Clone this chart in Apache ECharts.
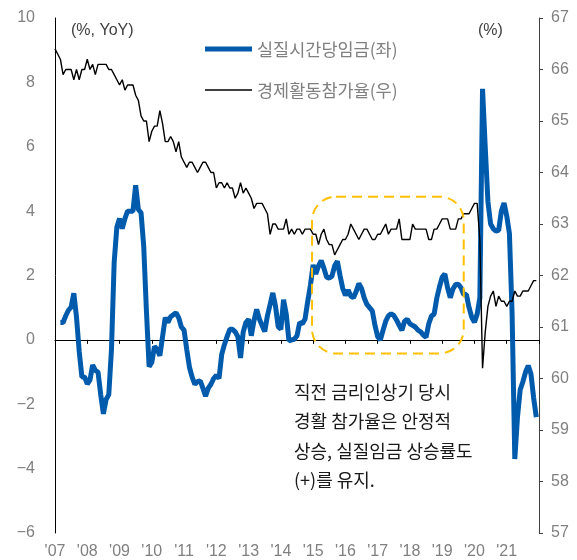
<!DOCTYPE html>
<html>
<head>
<meta charset="utf-8">
<script src="https://cdn.jsdelivr.net/npm/echarts@6/dist/echarts.min.js"></script>
<style>
  html, body { margin: 0; padding: 0; background: #fff; }
  #chart { width: 577px; height: 560px; }
</style>
</head>
<body>
<div id="chart"></div>
<script>
// 월별 데이터: 2007.01 ~ 2021.12 (180개월)
const yearLabels = ["'07", "'08", "'09", "'10", "'11", "'12", "'13", "'14", "'15", "'16", "'17", "'18", "'19", "'20", "'21"]

// 실질시간당임금 (%, YoY) - 좌축
const wageData = [
  null, null, 0.54, 0.54, 0.75, 0.92, 1.02, 1.45, 0.7, -0.35,
  -1.15, -1.15, -1.37, -1.25, -0.78, -0.95, -1.0, -1.7, -2.3, -1.85,
  -1.7, -0.3, 2.4, 3.5, 3.77, 3.46, 3.77, 4.0, 4.0, 4.0,
  4.8, 4.05, 3.95, 2.9, 0.9, -0.83, -0.7, -0.2, -0.3, -0.49,
  0.1, 0.69, 0.54, 0.72, 0.78, 0.84, 0.69, 0.4, 0.3, -0.3,
  -0.85, -1.16, -1.38, -1.3, -1.27, -1.5, -1.75, -1.5, -1.38, -1.2,
  -1.1, -1.2, -0.45, -0.15, 0.1, 0.33, 0.33, 0.25, 0.1, -0.56,
  0.25, 0.54, 0.64, 0.13, 0.6, 0.95, 0.65, 0.45, 0.26, 0.75,
  1.1, 1.46, 1.05, 0.41, 0.33, 1.25, 0.8, -0.03, 0.0, 0.02,
  0.13, 0.54, 0.5, 0.65, 1.2, 1.7, 2.33, 2.05, 2.3, 2.46,
  2.23, 1.95, 1.92, 1.98, 2.3, 2.44, 2.0, 1.6, 1.38, 1.55,
  1.36, 1.31, 1.5, 1.75, 1.6, 1.3, 1.1, 1.0, 0.9, 0.45,
  0.1, 0.0, 0.3, 0.58, 0.75, 0.81, 0.76, 0.62, 0.45, 0.3,
  0.58, 0.64, 0.5, 0.45, 0.4, 0.3, 0.25, 0.15, 0.08, 0.5,
  0.74, 0.8, 1.3, 1.65, 1.95, 2.05, 1.62, 1.31, 1.58, 1.72,
  1.73, 1.62, 1.41, 1.41, 1.0, 0.7, 0.55, 0.8, 1.3, 7.8,
  6.0, 4.3, 3.6, 3.45, 3.38, 3.4, 4.0, 4.25, 3.85, 3.3,
  0.8, -3.7, -2.4, -1.55, -1.3, -1.0, -0.8, -1.05, -1.8, -2.4
]

// 경제활동참가율 (%) - 우축
const lfprData = [
  66.4, 66.3, 66.2, 65.9, 66.0, 66.0, 66.0, 65.8, 66.0, 65.8,
  66.0, 66.0, 66.2, 66.0, 66.1, 65.9, 66.1, 66.1, 66.1, 66.1,
  66.0, 66.0, 65.9, 65.8, 65.7, 65.8, 65.6, 65.7, 65.7, 65.7,
  65.5, 65.4, 65.1, 65.0, 65.0, 64.6, 64.8, 64.9, 64.9, 65.2,
  64.95, 64.6, 64.6, 64.7, 64.6, 64.4, 64.6, 64.3, 64.2, 64.1,
  64.2, 64.2, 64.1, 64.0, 64.1, 64.2, 64.2, 64.1, 64.0, 64.0,
  63.7, 63.8, 63.8, 63.7, 63.8, 63.7, 63.7, 63.5, 63.6, 63.8,
  63.6, 63.7, 63.6, 63.5, 63.3, 63.4, 63.4, 63.4, 63.3, 63.2,
  62.8, 63.0, 63.0, 62.9, 62.9, 62.9, 63.1, 62.8, 62.9, 62.8,
  62.9, 62.9, 62.8, 62.9, 62.9, 62.9, 62.8, 62.8, 62.6, 62.8,
  62.9, 62.7, 62.6, 62.6, 62.4, 62.5, 62.6, 62.7, 62.7, 62.8,
  63.0, 62.9, 62.8, 62.7, 62.8, 62.9, 62.9, 62.8, 62.7, 62.7,
  62.8, 62.8, 62.9, 63.0, 62.8, 62.9, 62.9, 62.9, 63.1, 62.7,
  62.7, 62.7, 62.7, 63.0, 62.9, 62.9, 62.9, 62.9, 62.9, 62.7,
  62.7, 62.9, 62.9, 63.0, 63.1, 63.1, 63.1, 62.9, 62.9, 62.9,
  63.1, 63.1, 63.2, 63.2, 63.2, 63.3, 63.4, 63.4, 62.7, 60.2,
  60.9, 61.4, 61.6, 61.7, 61.4, 61.6, 61.5, 61.5, 61.4, 61.5,
  61.5, 61.7, 61.6, 61.6, 61.7, 61.7, 61.7, 61.8, 61.9, 61.9
]

const seriesNames = ['실질시간당임금(좌)', '경제활동참가율(우)']
const noteLines = ['직전 금리인상기 당시', '경활 참가율은 안정적', '상승, 실질임금 상승률도', '(+)를 유지.']

const toPairs = (arr) => arr.map((v, i) => [i, v]).filter((p) => p[1] !== null)

const gray = '#808080'
const blue = '#005bac'
const latin = 'Liberation Sans'

const chart = echarts.init(document.getElementById('chart'))

const option = {
  animation: false,
  grid: { left: 55, right: 38, top: 18, bottom: 23 },
  xAxis: [
    {
      type: 'value',
      min: 0,
      max: 180,
      interval: 12,
      position: 'bottom',
      axisLine: { onZero: true, onZeroAxisIndex: 0, lineStyle: { color: '#000', width: 1 } },
      axisTick: { show: true, length: 4, lineStyle: { color: '#000' } },
      axisLabel: { show: false },
      splitLine: { show: false }
    },
    {
      type: 'value',
      min: 0,
      max: 180,
      interval: 12,
      position: 'bottom',
      axisLine: { show: false, onZero: false },
      axisTick: { show: false },
      splitLine: { show: false },
      axisLabel: {
        margin: 11,
        color: gray,
        fontSize: 16,
        fontFamily: latin,
        formatter: (v) => yearLabels[v / 12] || ''
      }
    }
  ],
  yAxis: [
    {
      type: 'value',
      min: -6,
      max: 10,
      interval: 2,
      position: 'left',
      axisLine: { show: true, onZero: false, lineStyle: { color: '#000' } },
      axisTick: { show: false },
      splitLine: { show: false },
      axisLabel: {
        margin: 20,
        color: gray,
        fontSize: 16,
        fontFamily: latin,
        formatter: (v) => String(v).replace('-', '\u2212')
      }
    },
    {
      type: 'value',
      min: 57,
      max: 67,
      interval: 1,
      position: 'right',
      axisLine: { show: true, onZero: false, lineStyle: { color: '#404040' } },
      axisTick: { show: true, length: 4, lineStyle: { color: '#404040' } },
      splitLine: { show: false },
      axisLabel: { margin: 12, color: gray, fontSize: 16, fontFamily: latin }
    }
  ],
  series: [
    {
      name: seriesNames[0],
      type: 'line',
      xAxisIndex: 0,
      yAxisIndex: 0,
      symbol: 'none',
      lineStyle: { color: blue, width: 5 },
      itemStyle: { color: blue },
      z: 2,
      data: toPairs(wageData)
    },
    {
      name: seriesNames[1],
      type: 'line',
      xAxisIndex: 0,
      yAxisIndex: 1,
      symbol: 'none',
      lineStyle: { color: '#000', width: 1.4 },
      itemStyle: { color: '#000' },
      z: 3,
      data: toPairs(lfprData)
    }
  ]
}

chart.setOption(option)

// 강조 박스 (2015~2019 구간) - 데이터 좌표를 픽셀로 변환
const p1 = chart.convertToPixel({ xAxisIndex: 0, yAxisIndex: 0 }, [95.6, 4.45])
const p2 = chart.convertToPixel({ xAxisIndex: 0, yAxisIndex: 0 }, [152, -0.42])

// 범례 (선 + 글자)
const legendItems = [
  { name: seriesNames[0], color: blue, width: 5, y: 49 },
  { name: seriesNames[1], color: '#000', width: 1.4, y: 90 }
]
const legendGraphics = []
legendItems.forEach((it) => {
  legendGraphics.push({
    type: 'line',
    shape: { x1: 205, y1: it.y, x2: 252, y2: it.y },
    style: { stroke: it.color, lineWidth: it.width },
    z: 10
  })
  legendGraphics.push({
    type: 'text',
    x: 257,
    y: it.y,
    style: {
      text: it.name,
      fill: gray,
      font: '17.5px "Noto Sans CJK KR"',
      verticalAlign: 'middle'
    },
    z: 10
  })
})

chart.setOption({
  graphic: [
    {
      type: 'rect',
      shape: { x: p1[0], y: p1[1], width: p2[0] - p1[0], height: p2[1] - p1[1], r: 24 },
      style: { fill: 'none', stroke: '#ffc000', lineWidth: 2, lineDash: [10, 6] },
      z: 10
    },
    ...legendGraphics,
    {
      type: 'text',
      left: 71,
      top: 23,
      style: { text: '(%, YoY)', fill: '#404040', font: '16px "Liberation Sans"' }
    },
    {
      type: 'text',
      left: 478,
      top: 23,
      style: { text: '(%)', fill: '#404040', font: '16px "Liberation Sans"' }
    },
    {
      type: 'text',
      left: 294,
      top: 377,
      style: {
        text: noteLines.join('\n'),
        fill: '#1a1a1a',
        font: '18px "Noto Sans CJK KR"',
        lineHeight: 29.5
      }
    }
  ]
})
</script>
</body>
</html>
